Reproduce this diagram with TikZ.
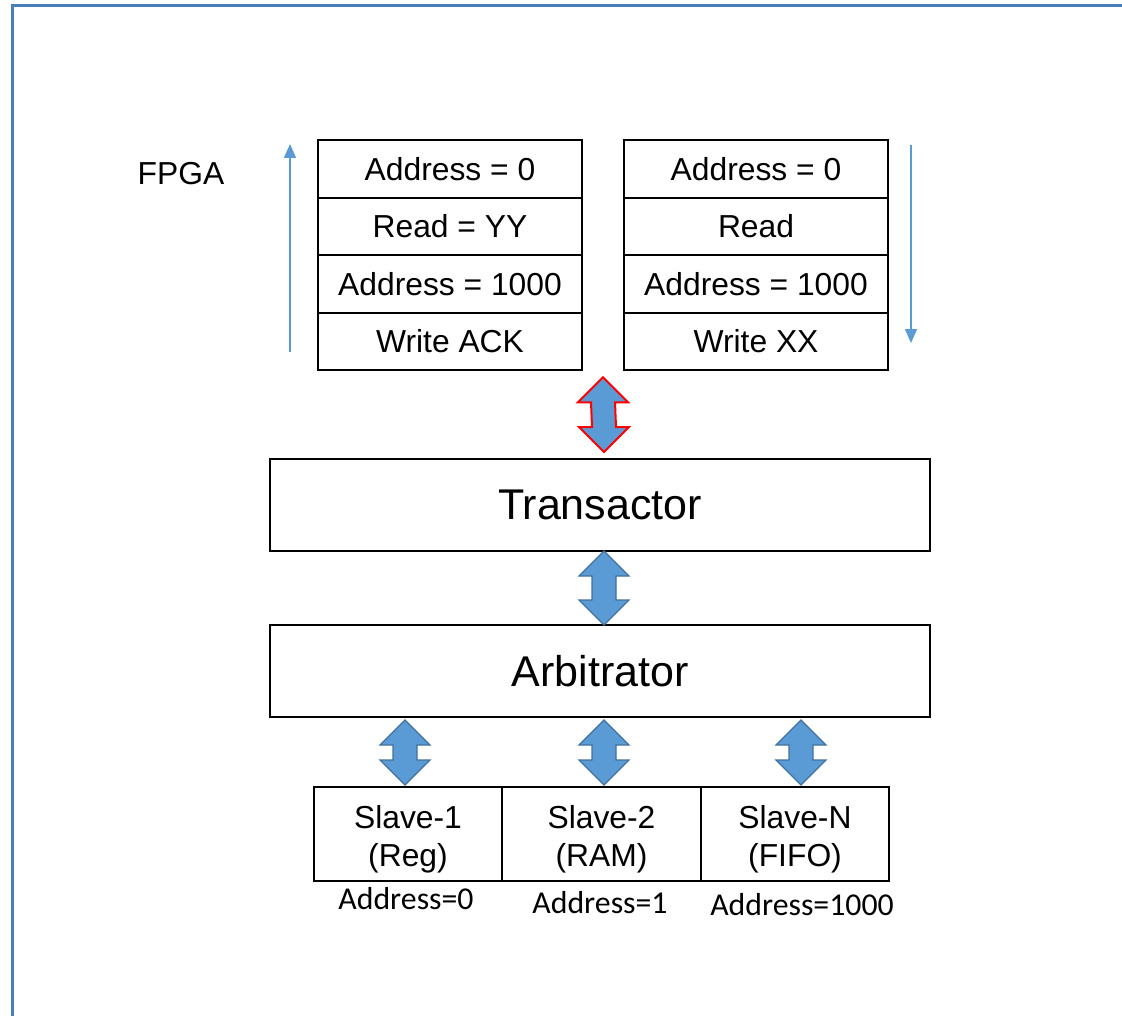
\documentclass[tikz,border=0pt]{standalone}
\usepackage{fontspec}
\setmainfont{Liberation Sans}
\newfontfamily\calibri{Carlito}
\usetikzlibrary{positioning,calc,arrows.meta}

\definecolor{frameblue}{RGB}{74,126,187}
\definecolor{arrowfill}{RGB}{91,155,213}
\definecolor{arrowline}{RGB}{65,113,156}

\newcommand{\tallstrut}{\rule{0pt}{17pt}}

\tikzset{
  cell/.style={draw,line width=1pt,outer sep=0pt,inner sep=0pt,
    minimum width=132pt,minimum height=28.75pt,font=\fontsize{15.9}{18}\selectfont},
  bigbox/.style={draw,line width=1pt,outer sep=0pt,
    minimum width=330pt,minimum height=46pt,font=\fontsize{21.5}{25}\selectfont},
  slavebox/.style={draw,line width=1pt,outer sep=0pt,inner sep=0pt,align=center,
    minimum width=94pt,minimum height=47pt,font=\fontsize{15.9}{19}\selectfont},
  addr/.style={font=\calibri\fontsize{15.9}{18}\selectfont},
  flow/.style={draw=arrowfill,line width=0.75pt,-{Triangle[width=6pt,length=7pt]}},
  blockarrow/.style={fill=arrowfill,draw=arrowline,line width=0.6pt,line join=miter}
}

% two-headed block arrow from top tip #2 to bottom tip #3
\newcommand{\updown}[3][]{%
  \draw[blockarrow,#1] (#2) -- ++(25,25) -- ++(-13,0) -- ($(#3)+(12,-25)$)
    -- ++(13,0) -- (#3) -- ++(-25,-25) -- ++(13,0) -- ($(#2)+(-12,25)$)
    -- ++(-13,0) -- cycle;}

\begin{document}
\begin{tikzpicture}[x=0.5pt,y=-0.5pt]
  \useasboundingbox (0,0) rectangle (1122,1016);
  \draw[frameblue,line width=1.5pt] (1122,5.5) -- (12.5,5.5) -- (12.5,1016);

  \node[font=\fontsize{15.9}{18}\selectfont] (fpga) at (181,174) {FPGA};

  % outgoing and incoming queues
  \node[cell] (l1) at (450,169) {Address = 0};
  \node[cell,below=0pt of l1] (l2) {Read = YY};
  \node[cell,below=0pt of l2] (l3) {Address = 1000};
  \node[cell,below=0pt of l3] (l4) {Write ACK};

  \node[cell] (r1) at (756,169) {Address = 0};
  \node[cell,below=0pt of r1] (r2) {Read};
  \node[cell,below=0pt of r2] (r3) {Address = 1000};
  \node[cell,below=0pt of r3] (r4) {Write XX};

  \coordinate (upfoot) at (290,352);
  \coordinate (uphead) at (290,144);
  \draw[flow] (upfoot) -- (uphead);
  \coordinate (downfoot) at (911,145);
  \coordinate (downhead) at (911,343);
  \draw[flow] (downfoot) -- (downhead);

  \node[bigbox] (trans) at (600,505) {Transactor};
  \node[bigbox] (arb) at (600,671) {Arbitrator};

  \node[slavebox] (s1) at (408,834) {\tallstrut Slave-1\\(Reg)};
  \node[slavebox,minimum width=99.5pt,right=0pt of s1] (s2) {\tallstrut Slave-2\\(RAM)};
  \node[slavebox,right=0pt of s2] (s3) {\tallstrut Slave-N\\(FIFO)};

  \node[addr] (ad1) at (406,899) {Address=0};
  \node[addr] (ad2) at (600,903) {Address=1};
  \node[addr] (ad3) at (802,905) {Address=1000};

  % block arrows
  \coordinate (qa) at ($(l4.south east)!0.5!(r4.south west)+(0,7)$);
  \coordinate (qb) at ($(trans.north)+(4,-7)$);
  \updown[draw=red,line width=1pt]{qa}{qb}
  \coordinate (ta) at ($(trans.south)+(4,0)$);
  \coordinate (ab) at ($(arb.north)+(4,0)$);
  \updown{ta}{ab}
  \foreach \s/\dx in {s1/-3,s2/2.5,s3/6}{
    \coordinate (\s top) at ($(arb.south -| \s.north)+(\dx,3)$);
    \coordinate (\s foot) at ($(\s.north)+(\dx,-2)$);
    \updown{\s top}{\s foot}
  }
\end{tikzpicture}
\end{document}
